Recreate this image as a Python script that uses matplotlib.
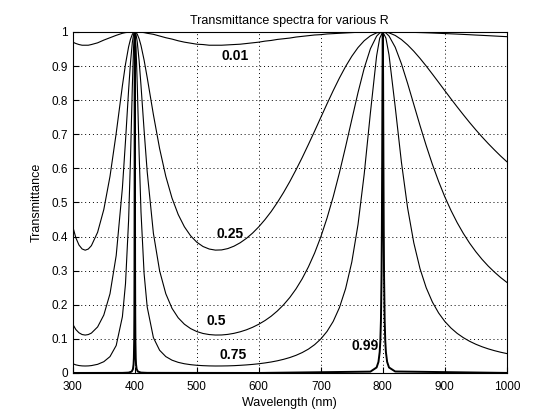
import numpy as np
import matplotlib
matplotlib.use("Agg")
import matplotlib.pyplot as plt

plt.rcParams['font.family'] = ['Liberation Sans', 'DejaVu Sans']

# wavelength grid (nm), denser near the 400 and 800 nm peaks
wl = [300, 305, 310, 315, 320, 325, 330, 340, 350, 360, 370, 380, 385, 390, 393, 396, 398,
      400, 402, 404, 407, 410, 415, 420, 430, 440, 450, 460, 470, 480, 490,
      500, 510, 520, 530, 540, 550, 560, 570, 580, 590, 600, 610, 620, 630,
      640, 650, 660, 670, 680, 690, 700, 710, 720, 730, 740, 750, 760, 770,
      780, 790, 795, 800, 805, 810, 820, 830, 840, 850, 860, 870, 880, 890,
      900, 910, 920, 930, 940, 950, 960, 970, 980, 990, 1000]

t_001 = [.970, .966, .963, .961, .961, .961, .963, .968, .976, .983, .990, .996, .998, .999, .9995, 1.0, 1.0,
         1.0, 1.0, .9998, .9995, .999, .998, .996, .993, .988, .983, .979, .974, .970, .967,
         .964, .963, .961, .961, .961, .962, .963, .964, .966, .968, .970, .973, .975, .978,
         .980, .982, .985, .987, .989, .991, .992, .994, .995, .996, .997, .998, .999, .9994,
         .9997, .9999, 1.0, 1.0, 1.0, .9999, .9998, .9995, .9991, .9986, .9981, .9975, .9968, .9960,
         .9952, .9944, .9936, .9927, .9918, .9908, .9899, .9890, .9880, .9870, .9861]

t_025 = [.4286, .3959, .3750, .3636, .3600, .3634, .3733, .4124, .4792, .5765, .7028, .8422, .9054, .9563, .9783, .9929, .9982,
         1.0, .9983, .9932, .9797, .9602, .9173, .8662, .7574, .6581, .5765, .5129, .4646, .4286, .4022,
         .3834, .3708, .3634, .3602, .3608, .3647, .3718, .3818, .3946, .4102, .4286, .4498, .4734, .5001,
         .5294, .5612, .5955, .6318, .6700, .7092, .7492, .7890, .8278, .8647, .8986, .9286, .9541, .9742,
         .9886, .9972, .9993, 1.0, .9993, .9973, .9897, .9777, .9620, .9434, .9225, .9000, .8763, .8522,
         .8278, .8037, .7800, .7569, .7344, .7129, .6923, .6727, .6541, .6362, .6195]

t_05 = [.1429, .1271, .1177, .1127, .1111, .1126, .1169, .1349, .1698, .2323, .3444, .5425, .6802, .8293, .9094, .9688, .9921,
        1.0, .9922, .9700, .9148, .8428, .7115, .5899, .4096, .2996, .2323, .1896, .1617, .1429, .1301,
        .1214, .1158, .1126, .1112, .1114, .1131, .1162, .1207, .1265, .1339, .1429, .1537, .1665, .1819,
        .2000, .2213, .2465, .2761, .3109, .3515, .3990, .4539, .5165, .5867, .6633, .7430, .8220, .8935,
        .9507, .9875, .9969, 1.0, .9970, .9881, .9552, .9068, .8491, .7873, .7256, .6666, .6116, .5617,
        .5165, .4764, .4406, .4089, .3806, .3556, .3333, .3135, .2959, .2799, .2657]

t_075 = [.0270, .0237, .0217, .0207, .0204, .0207, .0216, .0253, .0330, .0480, .0805, .1650, .2617, .4474, .6257, .8383, .9542,
         1.0, .9552, .8437, .6416, .4719, .2913, .1934, .1036, .0666, .0480, .0375, .0311, .0270, .0243,
         .0225, .0214, .0207, .0204, .0205, .0208, .0214, .0224, .0236, .0251, .0270, .0294, .0322, .0357,
         .0400, .0452, .0517, .0598, .0699, .0829, .0996, .1217, .1511, .1914, .2472, .3252, .4349, .5830,
         .7626, .9294, .9816, 1.0, .9820, .9327, .7805, .6185, .4840, .3815, .3059, .2499, .2079, .1760,
         .1511, .1317, .1160, .1034, .0929, .0842, .0769, .0707, .0654, .0608, .0569]

# R = 0.99 has very narrow peaks, so it gets its own grid
wl_099 = [300, 380, 390, 395, 397, 398, 398.5, 399, 399.3, 399.5, 399.7, 399.8, 399.9, 400,
          400.1, 400.2, 400.3, 400.5, 400.7, 401, 401.5, 402, 403, 405, 410, 420, 600,
          780, 790, 793, 795, 796, 797, 798, 798.5, 799, 799.5, 800, 800.5, 801, 801.5,
          802, 803, 804, 805, 807, 810, 820, 1000]
t_099 = [0.0, .0002, .001, .0041, .0112, .025, .0435, .093, .173, .290, .532, .719, .911, 1.0,
         .911, .719, .532, .290, .173, .093, .0435, .025, .0112, .0041, .0011, .0003, 0.0,
         .0039, .0161, .0324, .0614, .093, .154, .290, .421, .621, .867, 1.0, .867, .621, .421,
         .290, .154, .093, .0614, .0324, .0161, .0043, .0001]

labels = ['0.01', '0.25', '0.5', '0.75', '0.99']
label_x = [540, 531, 516, 537, 750]
label_y = [0.93, 0.408, 0.152, 0.053, 0.079]

fig = plt.figure(figsize=(5.6, 4.2), dpi=100)
ax = fig.add_axes([0.130, 0.112, 0.775, 0.812])

for t in [t_001, t_025, t_05, t_075]:
    ax.plot(wl, t, color='black', lw=0.8)
ax.plot(wl_099, t_099, color='black', lw=1.4)

for lab, x, y in zip(labels, label_x, label_y):
    ax.text(x, y, lab, fontsize=10, fontweight='bold', ha='left', va='center')

ax.set_xlim(300, 1000)
ax.set_ylim(0, 1)
ax.set_xticks(range(300, 1001, 100))
ax.set_yticks(np.arange(0, 1.01, 0.1))
ax.set_yticklabels(['0', '0.1', '0.2', '0.3', '0.4', '0.5', '0.6', '0.7', '0.8', '0.9', '1'])
ax.tick_params(direction='in', length=4, labelsize=8.5, width=0.8)
ax.tick_params(axis='x', pad=5.5)
ax.grid(True, color='black', linestyle=(0, (1, 3)), lw=0.7)
for sp in ax.spines.values():
    sp.set_linewidth(0.8)

ax.set_title('Transmittance spectra for various R', fontsize=9)
ax.set_xlabel('Wavelength (nm)', fontsize=9, labelpad=3)
ax.set_ylabel('Transmittance', fontsize=9, labelpad=6)

fig.savefig('out.png', dpi=100)
